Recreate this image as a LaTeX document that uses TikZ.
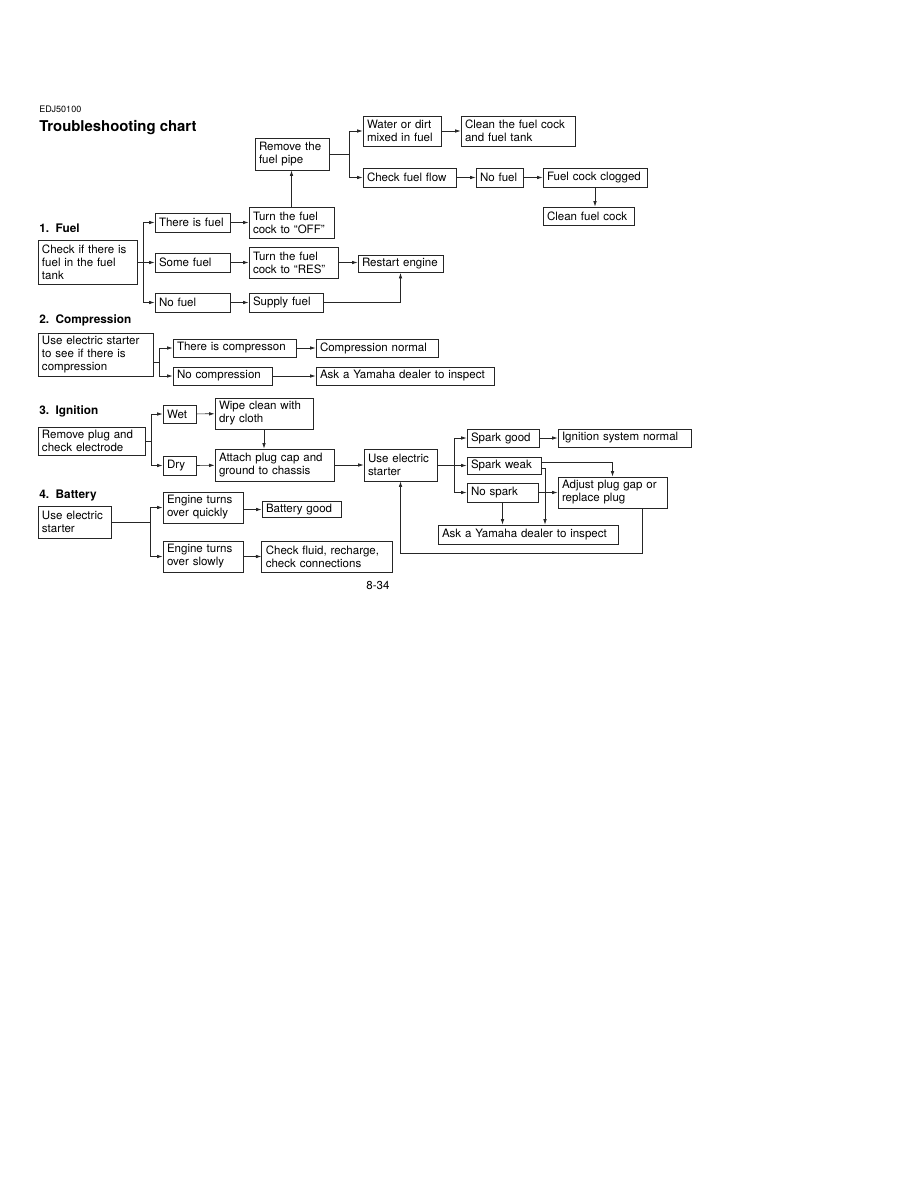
\documentclass[tikz,border=0pt]{standalone}
\usepackage{fontspec}
\setmainfont{TeX Gyre Heros}
\usepackage{tikz}
\usetikzlibrary{arrows.meta}
\hyphenpenalty=10000
\exhyphenpenalty=10000
\tikzset{box/.style={draw=black!85,line width=0.5pt,inner xsep=1mm,inner ysep=0.6pt,align=left,font=\fontsize{8.2}{9.2}\selectfont}}
\tikzset{arr/.style={line width=0.5pt,black!85,-{Latex[length=1.4mm,width=0.9mm]}}}
\tikzset{head/.style={anchor=west,inner sep=0pt,font=\fontsize{8.4}{9.2}\selectfont\bfseries}}

\begin{document}
\begin{tikzpicture}[x=0.25mm,y=-0.25mm]
            \useasboundingbox (0,0) rectangle (918,1188);
            % titles
            \node[anchor=west,inner sep=0pt,font=\fontsize{6.4}{7}\selectfont] (code) at (39,109) {EDJ50100};
            \node[anchor=west,inner sep=0pt,font=\fontsize{10.6}{12}\selectfont\bfseries] (title) at (39,128) {Troubleshooting chart};
            \node[head] (hfuel) at (39,228) {1.\ \ Fuel};
            \node[head] (hcomp) at (39,320) {2.\ \ Compression};
            \node[head] (hign) at (39,411) {3.\ \ Ignition};
            \node[head] (hbat) at (39,495) {4.\ \ Battery};
            \node[font=\fontsize{8.2}{9.2}\selectfont] (page) at (378,585) {8-34};

            % 1. fuel
            \node[box,text width=22.75mm,minimum height=11mm] (chk) at (87.5,262) {Check if there is\\fuel in the fuel\\tank};
            \node[box,text width=16.75mm,minimum height=4.75mm] (isf) at (192.5,222.5) {There is fuel};
            \node[box,text width=16.75mm,minimum height=4.75mm] (smf) at (192.5,262.5) {Some fuel};
            \node[box,text width=16.75mm,minimum height=4.75mm] (nof) at (192.5,302.5) {No fuel};
            \node[box,text width=19.25mm,minimum height=7.75mm] (off) at (291.5,222.5) {Turn the fuel\\cock to ``OFF''};
            \node[box,text width=20.25mm,minimum height=7.75mm] (res) at (293.5,262.5) {Turn the fuel\\cock to ``RES''};
            \node[box,text width=16.5mm,minimum height=4.75mm] (sup) at (286,302.5) {Supply fuel};
            \node[box,text width=19.25mm,minimum height=4.25mm] (rst) at (400.5,264) {Restart engine};
            \node[box,text width=16.5mm,minimum height=8mm] (rmp) at (292,154) {Remove the\\fuel pipe};
            \node[box,text width=17.5mm,minimum height=7.5mm] (wtr) at (402,131) {Water or dirt\\mixed in fuel};
            \node[box,text width=26.5mm,minimum height=7.5mm] (cln) at (518,131) {Clean the fuel cock\\and fuel tank};
            \node[box,text width=21.25mm,minimum height=4.75mm] (cff) at (409.5,177.5) {Check fuel flow};
            \node[box,text width=9.75mm,minimum height=4.75mm] (nof2) at (499.5,177.5) {No fuel};
            \node[box,text width=24mm,minimum height=4.75mm] (clg) at (595,177.5) {Fuel cock clogged};
            \node[box,text width=20.75mm,minimum height=4.5mm] (clc) at (588.5,216) {Clean fuel cock};

            \draw[arr] (chk.east) -- ++(6,0) |- (isf.west);
            \draw[arr] (chk.east) -- ++(6,0) |- (smf.west);
            \draw[arr] (chk.east) -- ++(6,0) |- (nof.west);
            \draw[arr] (isf) -- (off);
            \draw[arr] (smf) -- (res);
            \draw[arr] (nof) -- (sup);
            \draw[arr] (res.east) -- (rst.west |- res.east);
            \draw[arr] (sup) -| (rst);
            \draw[arr] (off.north) -- (off.north |- rmp.south);
            \draw[arr] (rmp.east) -- ++(20,0) |- (wtr.west);
            \draw[arr] (rmp.east) -- ++(20,0) |- (cff.west);
            \draw[arr] (wtr) -- (cln);
            \draw[arr] (cff) -- (nof2);
            \draw[arr] (nof2) -- (clg);
            \draw[arr] (clg.south) -- (clg.south |- clc.north);

            % 2. compression
            \node[box,text width=26.75mm,minimum height=10.75mm] (cmp) at (95.5,354.5) {Use electric starter\\to see if there is\\compression};
            \node[box,text width=28.75mm,minimum height=4.5mm] (yes) at (234.5,348) {There is compresson};
            \node[box,text width=28.5mm,minimum height=4.5mm] (cnm) at (377,348) {Compression normal};
            \node[box,text width=22.75mm,minimum height=4.5mm] (ncp) at (222.5,376) {No compression};
            \node[box,text width=42.5mm,minimum height=4.5mm] (ask1) at (405,376) {Ask a Yamaha dealer to inspect};

            \draw[arr] (cmp.east |- 0,362) -- ++(6,0) |- (yes.west);
            \draw[arr] (cmp.east |- 0,362) -- ++(6,0) |- (ncp.west);
            \draw[arr] (yes) -- (cnm);
            \draw[arr] (ncp) -- (ask1);

            % 3. ignition
            \node[box,text width=24.75mm,minimum height=7mm] (rpl) at (91.5,441) {Remove plug and\\check electrode};
            \node[box,text width=6.25mm,minimum height=4.5mm] (wet) at (179.5,414) {Wet};
            \node[box,text width=22.5mm,minimum height=7.75mm] (wip) at (264,413.5) {Wipe clean with\\dry cloth};
            \node[box,text width=6.25mm,minimum height=4.75mm] (dry) at (179.5,465.5) {Dry};
            \node[box,text width=27.75mm,minimum height=8mm] (att) at (274.5,465) {Attach plug cap and\\ground to chassis};
            \node[box,text width=16.25mm,minimum height=8mm] (ues) at (400.5,465) {Use electric\\starter};
            \node[box,text width=16mm,minimum height=4.5mm] (sgd) at (503,438) {Spark good};
            \node[box,text width=31.25mm,minimum height=4.5mm] (isn) at (624.5,438) {Ignition system normal};
            \node[box,text width=16.5mm,minimum height=4.25mm] (swk) at (504,465.5) {Spark weak};
            \node[box,text width=15.75mm,minimum height=4.75mm] (nsp) at (502.5,492.5) {No spark};
            \node[box,text width=25.25mm,minimum height=7.75mm] (adj) at (612.5,492.5) {Adjust plug gap or\\replace plug};
            \node[box,text width=43mm,minimum height=4.75mm] (ask2) at (528,534.5) {Ask a Yamaha dealer to inspect};
            \coordinate (back) at (642,553);

            \draw[arr] (rpl.east) -- ++(6,0) |- (wet.west);
            \draw[arr] (rpl.east) -- ++(6,0) |- (dry.west);
            \draw[arr] (wet) -- (wip);
            \draw[arr] (dry) -- (att);
            \draw[arr] (wip.south) -- (wip.south |- att.north);
            \draw[arr] (att) -- (ues);
            \draw[arr] (ues.east) -- ++(17,0) |- (sgd.west);
            \draw[arr] (ues.east) -- ++(17,0) |- (swk.west);
            \draw[arr] (ues.east) -- ++(17,0) |- (nsp.west);
            \draw[arr] (sgd) -- (isn);
            \draw[arr] (swk.east |- 0,462) -| (adj.north);
            \draw[arr] (swk.east |- 0,468) -| (ask2.north -| 545,0);
            \draw[arr] (nsp) -- (adj);
            \draw[arr] (nsp.south) -- (nsp.south |- ask2.north);
            \draw[arr] (adj.south -| back) -- (back) -| (ues.south);

            % 4. battery
            \node[box,text width=16.25mm,minimum height=8mm] (ubt) at (74.5,522) {Use electric\\starter};
            \node[box,text width=18mm,minimum height=7.75mm] (eq) at (203,507.5) {Engine turns\\over quickly};
            \node[box,text width=17.75mm,minimum height=4mm] (bgd) at (301.5,509.5) {Battery good};
            \node[box,text width=18mm,minimum height=7.75mm] (es) at (203,556.5) {Engine turns\\over slowly};
            \node[box,text width=30.6mm,minimum height=7.75mm] (chf) at (327,556.5) {Check fluid, recharge,\\check connections};

            \draw[arr] (ubt.east) -- ++(39,0) |- (eq.west);
            \draw[arr] (ubt.east) -- ++(39,0) |- (es.west);
            \draw[arr] (eq.east |- bgd) -- (bgd);
            \draw[arr] (es) -- (chf);
        \end{tikzpicture}
\end{document}
